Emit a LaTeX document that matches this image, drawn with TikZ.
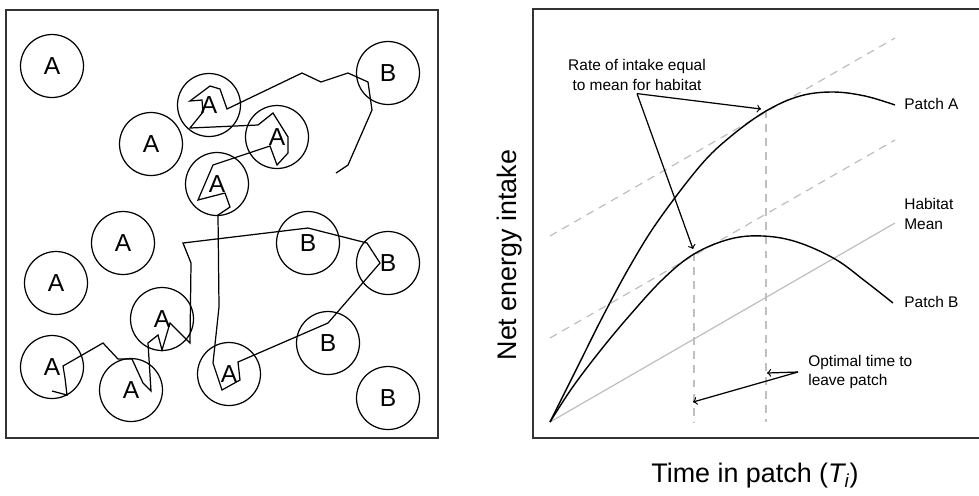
\documentclass[tikz,border=0pt]{standalone}
\usepackage{fontspec}
\setmainfont{Liberation Sans}
\usetikzlibrary{arrows,positioning}

\tikzset{
  patchA/.style={draw, circle, minimum size=1.26cm, inner sep=0pt, line width=0.7pt, font=\fontsize{14}{16}\selectfont},
  patchB/.style={patchA},
  frame/.style={line width=1.1pt, draw=black!80},
  walk/.style={line width=0.7pt, line join=miter},
  gain/.style={line width=0.8pt},
  meanline/.style={line width=0.7pt, draw=black!25},
  guide/.style={line width=0.7pt, draw=black!25, dash pattern=on 4.5pt off 3.5pt},
  lbl/.style={inner sep=0pt, font=\fontsize{8.8}{11.3}\selectfont},
  axislbl/.style={inner sep=0pt, font=\fontsize{15.3}{18}\selectfont},
  pointer/.style={->, line width=0.7pt}
}

\begin{document}
\begin{tikzpicture}[x=0.02cm, y=-0.02cm]
\useasboundingbox (0,0) rectangle (979,495);

% habitat with patches
\draw[frame] (6,10) rectangle (438,438);
\node[patchA] (a1) at (52,66) {A};
\node[patchB] (b1) at (388,73) {B};
\node[patchA] (a2) at (209,105) {A};
\node[patchA] (a3) at (151,144) {A};
\node[patchA] (a4) at (277,137) {A};
\node[patchA] (a5) at (217,184) {A};
\node[patchA] (a6) at (123,243) {A};
\node[patchB] (b2) at (308,243) {B};
\node[patchA] (a7) at (56,283) {A};
\node[patchB] (b3) at (388,263) {B};
\node[patchA] (a8) at (162,319) {A};
\node[patchB] (b4) at (328,343) {B};
\node[patchA] (a9) at (52,367) {A};
\node[patchA] (a10) at (131,390) {A};
\node[patchA] (a11) at (229,374) {A};
\node[patchB] (b5) at (388,398) {B};

% forager path
\draw[walk] (52,391) -- (67,395) -- (65,378) -- (63,366) -- (103,343) -- (118,359)
  -- (132,359) -- (143,383) -- (151,391) -- (148,343) -- (158,335) -- (162,350)
  -- (170,323) -- (190,343) -- (191,263) -- (183,243) -- (308,228) -- (367,243)
  -- (380,263) -- (328,323) -- (238,362) -- (240,380) -- (222,390) -- (213,363)
  -- (219,307) -- (218,215) -- (230,207) -- (225,193) -- (198,200) -- (213,165)
  -- (270,146) -- (277,165) -- (288,153) -- (288,137) -- (273,113) -- (258,125)
  -- (190,128) -- (203,112) -- (202,100) -- (190,101) -- (210,86) -- (220,89)
  -- (227,109) -- (302,73) -- (321,82) -- (348,73) -- (368,82) -- (372,110)
  -- (348,165) -- (336,173);

% graph
\draw[frame] (979,9) -- (533,9) -- (533,438) -- (979,438);
\draw[guide] (550,236) -- (895,38);
\draw[guide] (550,338) -- (895,140);
\draw[meanline] (550,422) -- (895,223);
\draw[guide] (694,253) -- (694,422);
\draw[guide] (766,110) -- (766,422);

\draw[gain] plot[smooth, tension=0.6] coordinates {(550,422) (576,370) (603,316)
  (630,266) (658,221) (700,166) (730,137) (766,111) (800,96) (833,92) (865,96) (895,105)};
\draw[gain] plot[smooth, tension=0.6] coordinates {(550,422) (572,388) (600,351)
  (630,315) (663,279) (694,254) (730,239) (763,236) (797,242) (835,259) (865,281) (893,303)};

% texte
\node[lbl, anchor=west] (pA) at (904,104) {Patch A};
\node[lbl, anchor=west, align=left] (hmean) at (904,214) {Habitat\\Mean};
\node[lbl, anchor=west] (pB) at (904,302) {Patch B};
\node[lbl, align=center, inner sep=1.5pt] (ratelbl) at (637,75) {Rate of intake equal\\to mean for habitat};
\node[lbl, anchor=west, align=left, inner xsep=0.2cm] (optlbl) at (798,372) {Optimal time to\\leave patch};

\coordinate (tanA) at (761,109);
\coordinate (tanB) at (693,249);
\coordinate (leaveA) at (767,373);
\coordinate (leaveB) at (693,402);
\draw[pointer] (ratelbl.south) -- (tanA);
\draw[pointer] (ratelbl.south) -- (tanB);
\draw[pointer] (optlbl.west) -- (leaveA);
\draw[pointer] (optlbl.west) -- (leaveB);

\node[axislbl, rotate=90] (ylbl) at (510,255) {Net energy intake};
\node[axislbl] (xlbl) at (755,476) {Time in patch ({\itshape T}\textsubscript{\itshape i})};

\end{tikzpicture}
\end{document}
